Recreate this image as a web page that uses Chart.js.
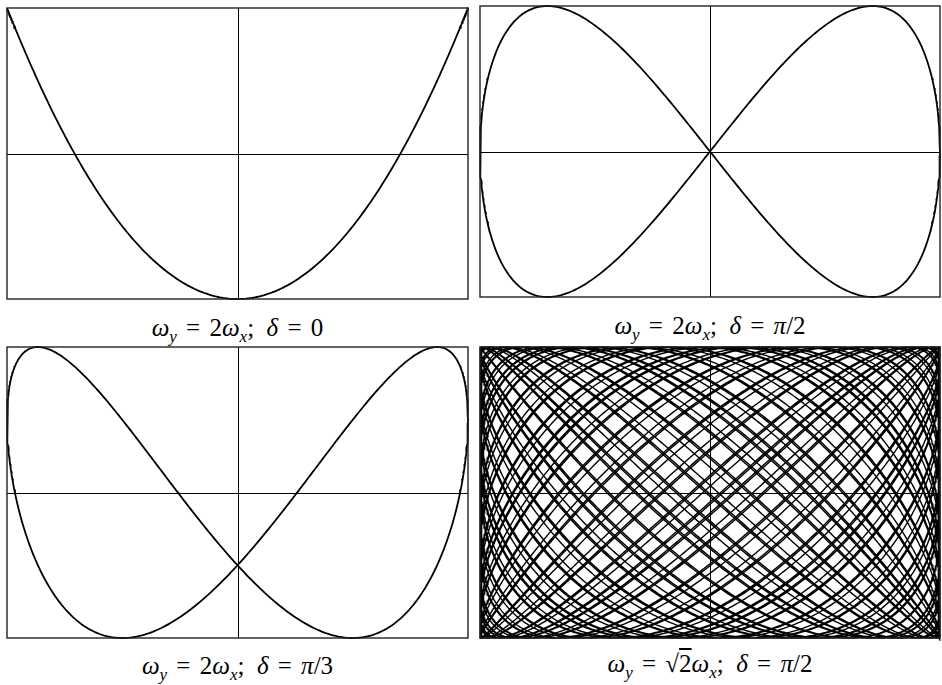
<!DOCTYPE html>
<html>
<head>
<meta charset="utf-8">
<script src="https://cdn.jsdelivr.net/npm/chart.js@4.4.1/dist/chart.umd.min.js"></script>
<style>
  html, body { margin: 0; padding: 0; background: #fff; }
  body { width: 942px; height: 685px; position: relative; overflow: hidden; }
  .panel { position: absolute; }
  .caption {
    position: absolute; width: 460px; text-align: center; line-height: 30px;
    font-family: "Liberation Serif", "DejaVu Serif", serif; font-size: 25px; color: #000;
    white-space: nowrap;
  }
  .caption i { font-style: italic; }
  .caption sub { font-size: 17px; vertical-align: -6px; line-height: 0; }
  .eq { padding: 0 3px; }
  .rt { text-decoration: overline; }
</style>
</head>
<body>
<script>
// frequency ratio wy/wx, phase delta and number of x-periods traced per panel
const ratios = [2, 2, 2, Math.SQRT2];
const phases = [0, Math.PI / 2, Math.PI / 3, Math.PI / 2];
const periods = [1, 1, 1, 46];
const captions = [
  '<i>ω</i><sub><i>y</i></sub> <span class="eq">=</span> 2<i>ω</i><sub><i>x</i></sub>;&nbsp;&nbsp;<i>δ</i> <span class="eq">=</span> 0',
  '<i>ω</i><sub><i>y</i></sub> <span class="eq">=</span> 2<i>ω</i><sub><i>x</i></sub>;&nbsp;&nbsp;<i>δ</i> <span class="eq">=</span> <i>π</i>/2',
  '<i>ω</i><sub><i>y</i></sub> <span class="eq">=</span> 2<i>ω</i><sub><i>x</i></sub>;&nbsp;&nbsp;<i>δ</i> <span class="eq">=</span> <i>π</i>/3',
  '<i>ω</i><sub><i>y</i></sub> <span class="eq">=</span> √<span class="rt">2</span><i>ω</i><sub><i>x</i></sub>;&nbsp;&nbsp;<i>δ</i> <span class="eq">=</span> <i>π</i>/2'
];

// panel frames on the page: left, top, width, height, caption top
const boxes = [
  [7, 8, 461, 291, 313],
  [480, 6, 460, 291, 311],
  [7, 347, 461, 291, 651],
  [480, 347, 460, 291, 649]
];
const PAD = 3;

// x = cos(t), y = cos(ratio * t + phase)
function tracePoints(ratio, phase, nPeriods) {
  const steps = 500 * nPeriods;
  const tMax = 2 * Math.PI * nPeriods;
  const pts = [];
  for (let i = 0; i <= steps; i++) {
    const t = tMax * i / steps;
    pts.push({ x: Math.cos(t), y: Math.cos(ratio * t + phase) });
  }
  return pts;
}

const framePlugin = {
  id: 'frame',
  beforeDatasetsDraw(chart) {
    const { ctx, chartArea: a, scales } = chart;
    const cx = Math.round(scales.x.getPixelForValue(0)) + 0.5;
    const cy = Math.round(scales.y.getPixelForValue(0)) + 0.5;
    ctx.save();
    ctx.strokeStyle = '#000';
    ctx.lineWidth = 1;
    ctx.beginPath();
    ctx.moveTo(cx, a.top); ctx.lineTo(cx, a.bottom);
    ctx.moveTo(a.left, cy); ctx.lineTo(a.right, cy);
    ctx.stroke();
    ctx.restore();
  },
  afterDatasetsDraw(chart) {
    const { ctx, chartArea: a } = chart;
    ctx.save();
    ctx.strokeStyle = '#222';
    ctx.lineWidth = 1.4;
    ctx.strokeRect(a.left, a.top, a.right - a.left, a.bottom - a.top);
    ctx.restore();
  }
};

boxes.forEach((b, i) => {
  const [left, top, w, h, capTop] = b;
  const div = document.createElement('div');
  div.className = 'panel';
  div.style.left = (left - PAD) + 'px';
  div.style.top = (top - PAD) + 'px';
  const cv = document.createElement('canvas');
  cv.width = w + 2 * PAD;
  cv.height = h + 2 * PAD;
  div.appendChild(cv);
  document.body.appendChild(div);

  const cap = document.createElement('div');
  cap.className = 'caption';
  cap.style.left = (left + w / 2 - 230) + 'px';
  cap.style.top = capTop + 'px';
  cap.innerHTML = captions[i];
  document.body.appendChild(cap);

  new Chart(cv.getContext('2d'), {
    type: 'scatter',
    data: {
      datasets: [{
        data: tracePoints(ratios[i], phases[i], periods[i]),
        showLine: true,
        borderColor: '#000',
        borderWidth: i === 3 ? 1.4 : 1.8,
        pointRadius: 0,
        tension: 0,
        clip: PAD
      }]
    },
    options: {
      responsive: false,
      animation: false,
      events: [],
      layout: { padding: PAD },
      plugins: { legend: { display: false }, tooltip: { enabled: false } },
      scales: {
        x: { type: 'linear', min: -1, max: 1, display: false },
        y: { type: 'linear', min: -1, max: 1, display: false }
      }
    },
    plugins: [framePlugin]
  });
});
</script>
</body>
</html>
